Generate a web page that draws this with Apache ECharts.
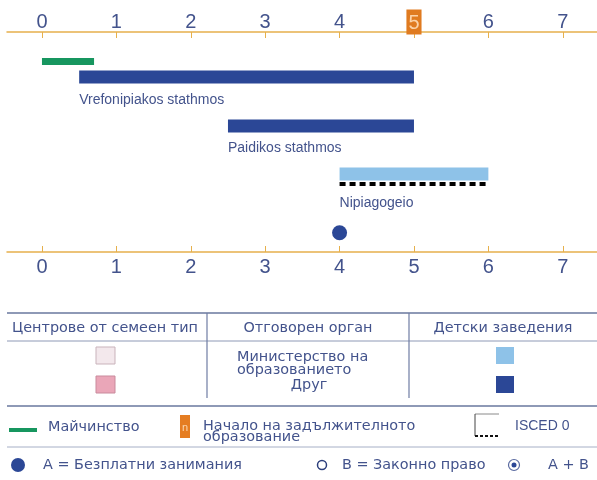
<!DOCTYPE html>
<html>
<head>
<meta charset="utf-8">
<script src="https://cdn.jsdelivr.net/npm/echarts@6/dist/echarts.min.js"></script>
<style>
  html, body { margin: 0; padding: 0; background: #fff; }
  #chart { width: 597px; height: 480px; }
</style>
</head>
<body>
<div id="chart"></div>
<script>
// ages shown on both axes
const ageTicks = [0, 1, 2, 3, 4, 5, 6, 7]
// programmes (start / end age)
const programmes = ['Vrefonipiakos stathmos', 'Paidikos stathmos', 'Nipiagogeio']
const startAge = [0.5, 2.5, 4]
const endAge = [5, 5, 6]
const authority = ['other', 'other', 'education']
// maternity leave (years)
const maternity = [0, 0.7]
// ISCED 0 span
const isced = [4, 6]
// compulsory education starts at
const compulsoryStart = 5
// free provision from age
const freeFrom = [4]

const textBlue = '#43538c'
const axisGold = '#e6b04c'
const authorityColor = { education: '#8ec2e8', other: '#2b4796' }
const narrow = '"Liberation Sans Narrow", "Liberation Sans", sans-serif'
const legendFont = '"DejaVu Sans", "Open Sans", sans-serif'
const lf = '14.4px ' + legendFont

// row levels on the hidden y axis (layout)
const rowLevel = { maternity: 29.5, programme: [45, 94, 142], isced: 152, free: 200.7 }
const labelOffset = [23, 22, 29]

const chart = echarts.init(document.getElementById('chart'))

const axisCommon = {
  type: 'value',
  min: -0.47,
  max: 7.46,
  splitLine: { show: false },
  axisLine: { lineStyle: { color: axisGold, width: 1.5 } },
  axisTick: { inside: true, length: 6, lineStyle: { color: axisGold }, customValues: ageTicks }
}

const legendGraphics = [
  // table lines
  { type: 'line', shape: { x1: 7, y1: 313, x2: 597, y2: 313 }, style: { stroke: '#8e99b6', lineWidth: 2 } },
  { type: 'line', shape: { x1: 7, y1: 341, x2: 597, y2: 341 }, style: { stroke: '#8e99b6', lineWidth: 1 } },
  { type: 'line', shape: { x1: 7, y1: 406, x2: 597, y2: 406 }, style: { stroke: '#8e99b6', lineWidth: 2 } },
  { type: 'line', shape: { x1: 7, y1: 447, x2: 597, y2: 447 }, style: { stroke: '#a6afc6', lineWidth: 1 } },
  { type: 'line', shape: { x1: 207, y1: 313, x2: 207, y2: 398 }, style: { stroke: '#6f7ca3', lineWidth: 1.2 } },
  { type: 'line', shape: { x1: 409, y1: 313, x2: 409, y2: 398 }, style: { stroke: '#6f7ca3', lineWidth: 1.2 } },
  // headers
  { type: 'text', x: 105, y: 328, style: { text: 'Центрове от семеен тип', fill: textBlue, font: lf, align: 'center', verticalAlign: 'middle' } },
  { type: 'text', x: 308, y: 328, style: { text: 'Отговорен орган', fill: textBlue, font: lf, align: 'center', verticalAlign: 'middle' } },
  { type: 'text', x: 503, y: 328, style: { text: 'Детски заведения', fill: textBlue, font: lf, align: 'center', verticalAlign: 'middle' } },
  // swatches
  { type: 'rect', shape: { x: 96, y: 347, width: 19, height: 17 }, style: { fill: '#f3e8ec', stroke: '#c9b3bb', lineWidth: 1 } },
  { type: 'rect', shape: { x: 96, y: 376, width: 19, height: 17 }, style: { fill: '#eaa6b8', stroke: '#c98a9c', lineWidth: 1 } },
  { type: 'rect', shape: { x: 496, y: 347, width: 18, height: 17 }, style: { fill: authorityColor.education } },
  { type: 'rect', shape: { x: 496, y: 376, width: 18, height: 17 }, style: { fill: authorityColor.other } },
  { type: 'text', x: 237, y: 364, style: { text: 'Министерство на\nобразованието', fill: textBlue, font: lf, lineHeight: 13.5, align: 'left', verticalAlign: 'middle' } },
  { type: 'text', x: 309, y: 385, style: { text: 'Друг', fill: textBlue, font: lf, align: 'center', verticalAlign: 'middle' } },
  // second row
  { type: 'line', shape: { x1: 9, y1: 430, x2: 37, y2: 430 }, style: { stroke: '#17965f', lineWidth: 4 } },
  { type: 'text', x: 48, y: 427, style: { text: 'Майчинство', fill: textBlue, font: lf, verticalAlign: 'middle' } },
  { type: 'rect', shape: { x: 180, y: 415, width: 10, height: 23 }, style: { fill: '#e57d22' } },
  { type: 'text', x: 185, y: 428, style: { text: 'n', fill: '#fbd7b0', font: '11px ' + narrow, align: 'center', verticalAlign: 'middle' } },
  { type: 'text', x: 203, y: 432, style: { text: 'Начало на задължителното\nобразование', fill: textBlue, font: lf, lineHeight: 11.5, verticalAlign: 'middle' } },
  { type: 'line', shape: { x1: 475, y1: 414, x2: 499, y2: 414 }, style: { stroke: '#8a8a8a', lineWidth: 1 } },
  { type: 'line', shape: { x1: 475, y1: 414, x2: 475, y2: 436 }, style: { stroke: '#444', lineWidth: 1 } },
  { type: 'line', shape: { x1: 475, y1: 436, x2: 498, y2: 436 }, style: { stroke: '#111', lineWidth: 2, lineDash: [3, 2] } },
  { type: 'text', x: 515, y: 426, style: { text: 'ISCED 0', fill: textBlue, font: '14px ' + narrow, verticalAlign: 'middle' } },
  // third row
  { type: 'circle', shape: { cx: 18, cy: 465, r: 7 }, style: { fill: authorityColor.other } },
  { type: 'text', x: 43, y: 465, style: { text: 'A = Безплатни занимания', fill: textBlue, font: lf, verticalAlign: 'middle' } },
  { type: 'circle', shape: { cx: 322, cy: 465, r: 4.5 }, style: { fill: '#fff', stroke: '#2c3f7c', lineWidth: 1.5 } },
  { type: 'text', x: 342, y: 465, style: { text: 'B = Законно право', fill: textBlue, font: lf, verticalAlign: 'middle' } },
  { type: 'circle', shape: { cx: 514, cy: 465, r: 5.5 }, style: { fill: '#fff', stroke: '#5a6aa0', lineWidth: 1.2 } },
  { type: 'circle', shape: { cx: 514, cy: 465, r: 2.5 }, style: { fill: authorityColor.other } },
  { type: 'text', x: 548, y: 465, style: { text: 'A + B', fill: textBlue, font: lf, verticalAlign: 'middle' } }
]

chart.setOption({
  backgroundColor: '#fff',
  animation: false,
  grid: { left: 7, right: 0, top: 32, bottom: 228 },
  xAxis: [
    {
      ...axisCommon,
      position: 'top',
      axisLabel: {
        customValues: ageTicks,
        margin: 0,
        formatter(v) {
          return v === compulsoryStart ? '{c|' + v + '}' : '{n|' + v + '}'
        },
        rich: {
          n: { color: textBlue, fontSize: 20, fontFamily: narrow, lineHeight: 20, padding: [0, 2, 0, 2] },
          c: { color: '#fbd3a8', fontSize: 20, fontFamily: narrow, lineHeight: 20, backgroundColor: '#e07b20', padding: [4, 2, 1, 2] }
        }
      }
    },
    {
      ...axisCommon,
      position: 'bottom',
      axisLabel: { customValues: ageTicks, margin: 5, color: textBlue, fontSize: 20, fontFamily: narrow, lineHeight: 20 }
    }
  ],
  yAxis: { type: 'value', inverse: true, min: 0, max: 220, show: false },
  series: [
    {
      name: 'maternity',
      type: 'custom',
      xAxisIndex: 0,
      data: [[maternity[0], maternity[1], rowLevel.maternity]],
      renderItem(params, api) {
        const s = api.coord([api.value(0), api.value(2)])
        const e = api.coord([api.value(1), api.value(2)])
        return { type: 'rect', shape: { x: s[0], y: s[1] - 3.5, width: e[0] - s[0], height: 7 }, style: { fill: '#17965f' } }
      }
    },
    {
      name: 'programmes',
      type: 'custom',
      xAxisIndex: 0,
      data: programmes.map((p, i) => [startAge[i], endAge[i], rowLevel.programme[i]]),
      renderItem(params, api) {
        const i = params.dataIndex
        const s = api.coord([api.value(0), api.value(2)])
        const e = api.coord([api.value(1), api.value(2)])
        return {
          type: 'group',
          children: [
            { type: 'rect', shape: { x: s[0], y: s[1] - 6.5, width: e[0] - s[0], height: 13 }, style: { fill: authorityColor[authority[i]] } },
            { type: 'text', x: s[0], y: s[1] + labelOffset[i], style: { text: programmes[i], fill: textBlue, font: '14px ' + narrow, verticalAlign: 'middle' } }
          ]
        }
      }
    },
    {
      name: 'isced',
      type: 'custom',
      xAxisIndex: 0,
      data: [[isced[0], isced[1], rowLevel.isced]],
      renderItem(params, api) {
        const s = api.coord([api.value(0), api.value(2)])
        const e = api.coord([api.value(1), api.value(2)])
        return { type: 'line', shape: { x1: s[0], y1: s[1], x2: e[0], y2: e[1] }, style: { stroke: '#000', lineWidth: 4, lineDash: [6, 4] } }
      }
    },
    {
      name: 'free',
      type: 'scatter',
      xAxisIndex: 0,
      symbolSize: 15,
      itemStyle: { color: authorityColor.other, opacity: 1 },
      data: freeFrom.map(a => [a, rowLevel.free])
    }
  ],
  graphic: legendGraphics
})
</script>
</body>
</html>
